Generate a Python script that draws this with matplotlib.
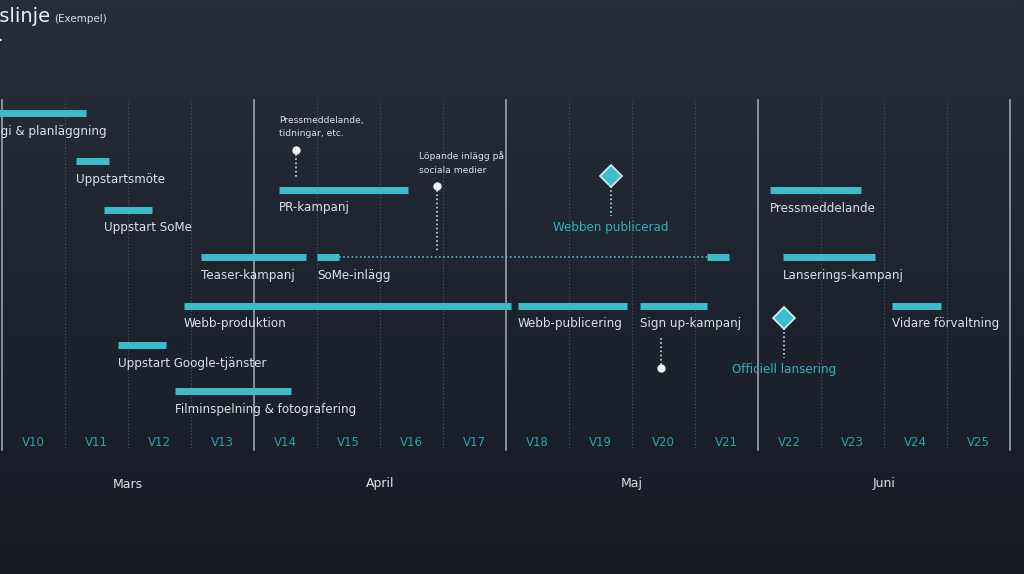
import matplotlib.pyplot as plt
import numpy as np

weeks = [f"V{i}" for i in range(10, 26)]
months = ["Mars", "April", "Maj", "Juni"]

# tasks: name, start week, end week, row y
tasks = ["Strategi & planläggning", "Uppstartsmöte", "Uppstart SoMe", "PR-kampanj",
         "Teaser-kampanj", "SoMe-inlägg", "Webb-produktion", "Webb-publicering",
         "Sign up-kampanj", "Vidare förvaltning", "Uppstart Google-tjänster",
         "Filminspelning & fotografering", "Pressmeddelande", "Lanserings-kampanj"]
starts = [-0.6, 1.17, 1.62, 4.40, 3.16, 5.00, 2.89, 8.19, 10.13, 14.13, 1.84, 2.75, 12.19, 12.40]
ends = [1.33, 1.70, 2.38, 6.44, 4.83, 5.35, 8.08, 9.92, 11.19, 14.90, 2.60, 4.59, 13.63, 13.86]
rows = [113, 161, 210, 190, 257, 257, 306, 306, 306, 306, 345, 391, 190, 257]

milestones = ["Webben publicerad", "Officiell lansering"]
ms_week = [9.67, 12.41]
ms_row = [176, 318]

W, H = 1024, 574
fig = plt.figure(figsize=(W / 100, H / 100), dpi=100)
ax = fig.add_axes([0, 0, 1, 1])
x0, wk = 2, 63.0
ax.set_xlim(-x0 / wk, (W - x0) / wk)
ax.set_ylim(H, 0)
ax.axis("off")

# background gradient
grad = np.linspace(0, 1, 256)[:, None]
ax.imshow(grad, extent=[-x0 / wk, (W - x0) / wk, H, 0], aspect="auto",
          cmap=plt.matplotlib.colors.LinearSegmentedColormap.from_list("bg", ["#272e3a", "#161b24"]),
          zorder=0)

bar_c = "#3cbccb"
txt_c = "#dde2e8"
fs = 8.6

for i in range(17):
    if i % 4 == 0:
        ax.plot([i, i], [100, 450], color="#9aa3ad", lw=1.2, zorder=1)
    else:
        ax.plot([i, i], [100, 450], color="#4c5662", lw=0.8, ls=(0, (1, 2)), zorder=1)
for i, w in enumerate(weeks):
    ax.text(i + 0.5, 443, w, color="#2aa3b0", fontsize=8.5, ha="center", va="center")
for i, m in enumerate(months):
    ax.text(i * 4 + 2, 484, m, color=txt_c, fontsize=9, ha="center", va="center")

for name, s, e, r in zip(tasks, starts, ends, rows):
    ax.plot([s, e], [r, r], color=bar_c, lw=5, solid_capstyle="butt", zorder=3)
    if name == "SoMe-inlägg":
        ax.plot([e, 11.19], [r, r], color="#5fb8c4", lw=1.2, ls=(0, (1, 1.5)), zorder=3)
        ax.plot([11.19, 11.54], [r, r], color=bar_c, lw=5, solid_capstyle="butt", zorder=3)
    ax.text(s, r + 18, name, color=txt_c, fontsize=fs, ha="left", va="center", clip_on=False)

for name, w, r in zip(milestones, ms_week, ms_row):
    ax.plot(w, r, marker="D", ms=11, color=bar_c, mec="#d8f3f6", mew=1.2, zorder=4)
    ax.plot([w, w], [r + 10, r + 40], color="#d0d6dc", lw=1.2, ls=(0, (1, 1.5)), zorder=3)
    ax.text(w, r + 51, name, color="#2fb1c0", fontsize=fs, ha="center", va="center")

# pins with notes
ax.plot([4.67, 4.67], [150, 178], color="#d0d6dc", lw=1.2, ls=(0, (1, 1.5)))
ax.plot(4.67, 150, "o", ms=5, color="#eef4f6")
ax.text(4.40, 127, "Pressmeddelande,\ntidningar, etc.", color=txt_c, fontsize=6.6, ha="left", va="center", linespacing=1.6)
ax.plot([6.91, 6.91], [186, 252], color="#d0d6dc", lw=1.2, ls=(0, (1, 1.5)))
ax.plot(6.91, 186, "o", ms=5, color="#eef4f6")
ax.text(6.62, 163, "Löpande inlägg på\nsociala medier", color=txt_c, fontsize=6.6, ha="left", va="center", linespacing=1.6)
ax.plot([10.46, 10.46], [338, 368], color="#d0d6dc", lw=1.2, ls=(0, (1, 1.5)))
ax.plot(10.46, 368, "o", ms=5, color="#eef4f6")

fig.text(50 / W, 1 - 17 / H, "Tidslinje", color="#eef1f4", fontsize=14, ha="right", va="center")
fig.text(54 / W, 1 - 19 / H, "(Exempel)", color="#d8dde3", fontsize=7.5, ha="left", va="center")
fig.text(0, 1 - 41 / H, "·", color="#eef1f4", fontsize=12, ha="center", va="center")

fig.savefig("out.png", dpi=100)
